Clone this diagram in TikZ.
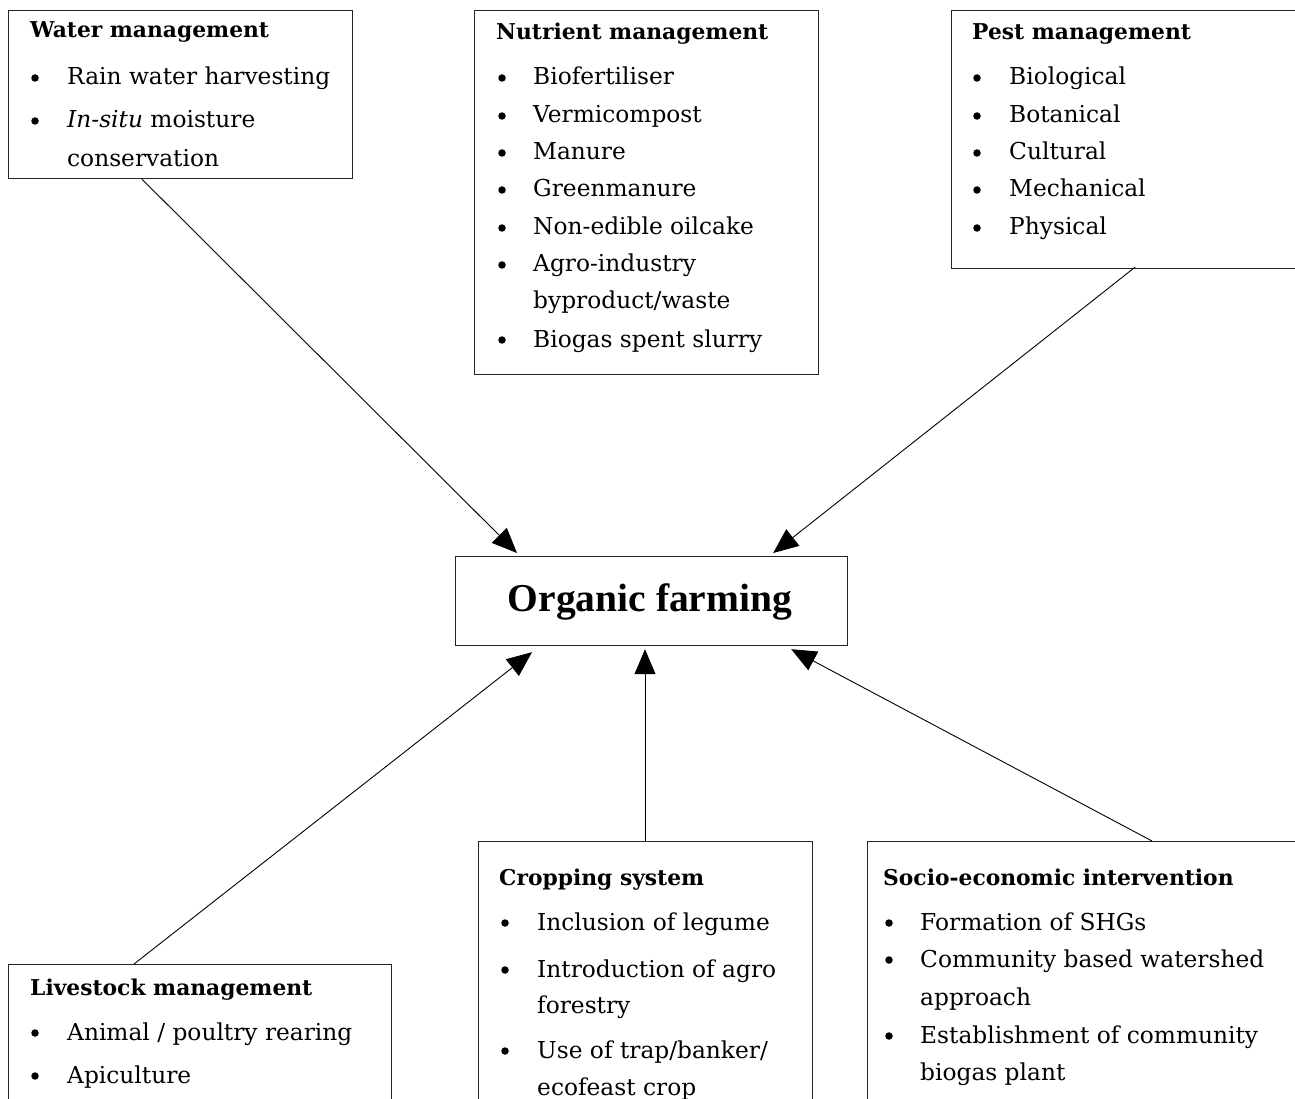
\documentclass[tikz,border=0pt]{standalone}
\usepackage{fontspec}
\setmainfont{DejaVu Serif}
\newfontfamily\timesfont{Liberation Serif}
\usetikzlibrary{arrows.meta,calc}
\tikzset{
  box/.style={draw=black!85, line width=1.2pt, anchor=north west, inner sep=0pt, fill=none},
  head/.style={anchor=base west, inner sep=0pt, font=\fontsize{21.8}{24}\selectfont\bfseries},
  txt/.style={anchor=base west, inner sep=0pt, font=\fontsize{23.3}{26}\selectfont},
  bul/.style={circle, fill=black, inner sep=0pt, minimum size=7.5pt, yshift=7pt},
  conn/.style={line width=0.9pt, -{Triangle[length=25pt,width=21pt]}},
}
\begin{document}
\begin{tikzpicture}[x=1pt,y=-1pt]
\useasboundingbox (0,0) rectangle (1295,1099);
% boxes
\node[box, minimum width=344pt, minimum height=168pt] (water) at (8,10) {};
\node[box, minimum width=344pt, minimum height=364pt] (nutr) at (474,10) {};
\node[box, minimum width=344pt, minimum height=258pt] (pest) at (951,10) {};
\node[box, minimum width=392pt, minimum height=89pt] (org) at (455,556) {};
\node[box, minimum width=383pt, minimum height=150pt] (live) at (8,964) {};
\node[box, minimum width=334pt, minimum height=270pt] (crop) at (478,841) {};
\node[box, minimum width=440pt, minimum height=270pt] (socio) at (867,841) {};
\node[inner sep=0pt, font=\timesfont\fontsize{39.5}{44}\selectfont\bfseries] (orgt) at (650,602) {Organic farming};
% water
\node[head] (w0) at (30,38) {Water management};
\node[bul] (wb1) at (35,85) {};
\node[txt] (w1) at (67,85) {Rain water harvesting};
\node[bul] (wb2) at (35,128) {};
\node[txt] (w2) at (67,128) {\textit{In-situ} moisture};
\node[txt] (w3) at (67,167) {conservation};
% nutrient
\node[head] (n0) at (496,40) {Nutrient management};
\foreach \y/\t [count=\i] in {85/Biofertiliser,123/Vermicompost,160/Manure,197/Greenmanure,235/Non-edible oilcake,272/Agro-industry,347/Biogas spent slurry}{
  \node[bul] (nb\i) at (502,\y) {};
  \node[txt] (n\i) at (533,\y) {\t};
}
\node[txt] (n8) at (533,308) {byproduct/waste};
% pest
\node[head] (p0) at (972,40) {Pest management};
\foreach \y/\t [count=\i] in {85/Biological,123/Botanical,160/Cultural,197/Mechanical,235/Physical}{
  \node[bul] (pb\i) at (977,\y) {};
  \node[txt] (p\i) at (1009,\y) {\t};
}
% livestock
\node[head] (l0) at (30,995) {Livestock management};
\node[bul] (lb1) at (35,1040) {};
\node[txt] (l1) at (67,1040) {Animal / poultry rearing};
\node[bul] (lb2) at (35,1083) {};
\node[txt] (l2) at (67,1083) {Apiculture};
% cropping
\node[head] (c0) at (499,885) {Cropping system};
\node[bul] (cb1) at (505,930) {};
\node[txt] (c1) at (537,930) {Inclusion of legume};
\node[bul] (cb2) at (505,977) {};
\node[txt] (c2) at (537,977) {Introduction of agro};
\node[txt] (c3) at (537,1013) {forestry};
\node[bul] (cb3) at (505,1058) {};
\node[txt] (c4) at (537,1058) {Use of trap/banker/};
\node[txt] (c5) at (537,1095) {ecofeast crop};
% socio
\node[head] (s0) at (883,885) {Socio-economic intervention};
\node[bul] (sb1) at (889,930) {};
\node[txt] (s1) at (920,930) {Formation of SHGs};
\node[bul] (sb2) at (889,967) {};
\node[txt] (s2) at (920,967) {Community based watershed};
\node[txt] (s3) at (920,1005) {approach};
\node[bul] (sb3) at (889,1043) {};
\node[txt] (s4) at (920,1043) {Establishment of community};
\node[txt] (s5) at (920,1080) {biogas plant};
% connectors
\draw[conn] ($(water.south west)+(134,0)$) -- ($(org.north west)+(62,-3)$);
\draw[conn] ($(pest.south west)+(184,-2)$) -- ($(org.north east)+(-75,-3)$);
\draw[conn] ($(live.north west)+(126,0)$) -- ($(org.south west)+(77,6)$);
\draw[conn] ($(crop.north west)+(167,0)$) -- ($(org.south west)+(190,3)$);
\draw[conn] ($(socio.north west)+(285,0)$) -- ($(org.south east)+(-57,3)$);
\end{tikzpicture}
\end{document}
